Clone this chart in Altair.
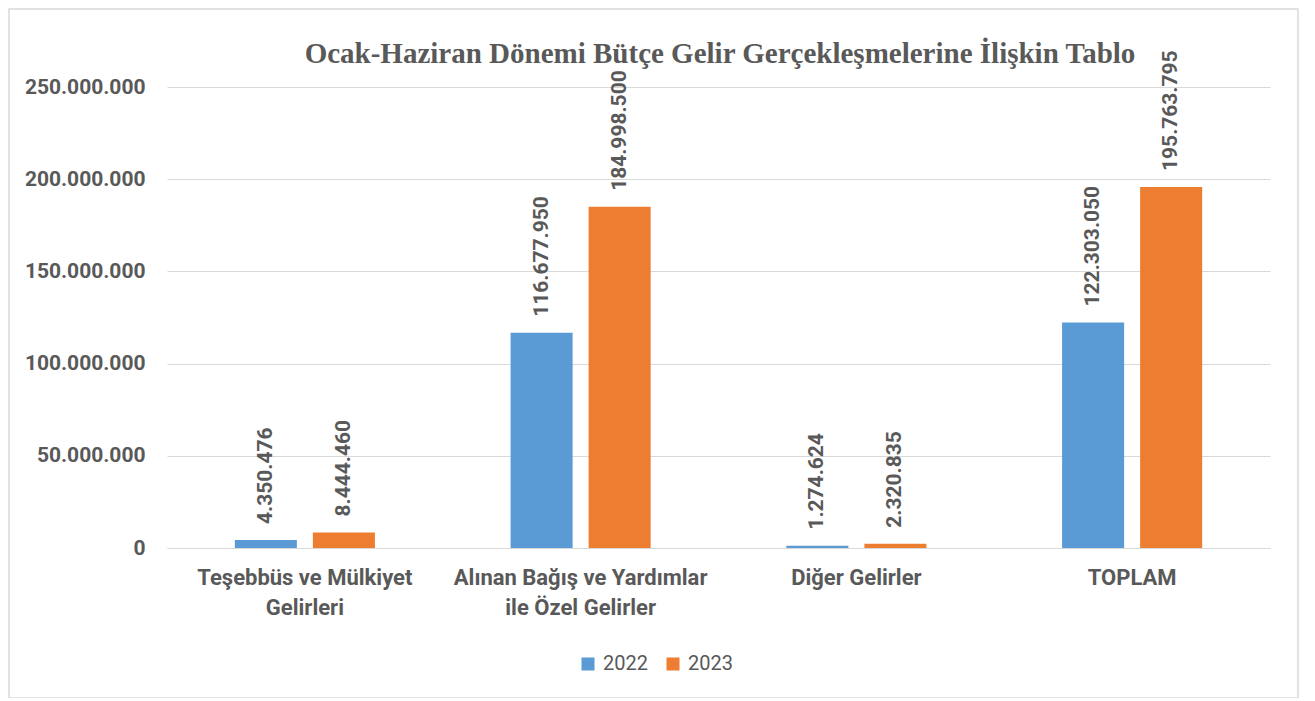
import altair as alt
import pandas as pd

categories = [
    "Teşebbüs ve Mülkiyet\nGelirleri",
    "Alınan Bağış ve Yardımlar\nile Özel Gelirler",
    "Diğer Gelirler",
    "TOPLAM",
]
years = ["2022", "2023"]
values_2022 = [4350476, 116677950, 1274624, 122303050]
values_2023 = [8444460, 184998500, 2320835, 195763795]
y_ticks = [0, 50000000, 100000000, 150000000, 200000000, 250000000]
colors = ["#5B9BD5", "#ED7D31"]
title_text = "Ocak-Haziran Dönemi Bütçe Gelir Gerçekleşmelerine İlişkin Tablo"

rows = []
for i, c in enumerate(categories):
    rows.append({"category": c, "year": years[0], "value": values_2022[i]})
    rows.append({"category": c, "year": years[1], "value": values_2023[i]})
df = pd.DataFrame(rows)

TXT = "#595959"
FONT = "Roboto"

base = alt.Chart(df).encode(
    x=alt.X(
        "category:N",
        sort=categories,
        scale=alt.Scale(paddingInner=0.492, paddingOuter=0.246),
        axis=alt.Axis(
            title=None,
            labelAngle=0,
            labelExpr="split(datum.label, '\\n')",
            labelFontSize=22,
            labelLineHeight=30,
            labelPadding=19,
            labelLimit=0,
            ticks=False,
            domainColor="#d9d9d9",
            grid=False,
        ),
    ),
    xOffset=alt.XOffset("year:N", scale=alt.Scale(paddingInner=0.205, paddingOuter=0)),
    y=alt.Y(
        "value:Q",
        scale=alt.Scale(domain=[0, 250000000], nice=False),
        axis=alt.Axis(
            title=None,
            values=y_ticks,
            format=",d",
            domain=False,
            ticks=False,
            gridColor="#d9d9d9",
            gridWidth=1,
            labelPadding=22,
            labelFontSize=21,
            labelLimit=0,
        ),
    ),
)

bars = base.mark_bar().encode(
    color=alt.Color(
        "year:N",
        scale=alt.Scale(domain=years, range=colors),
        legend=alt.Legend(
            title=None,
            orient="none",
            direction="horizontal",
            legendX=411,
            legendY=567,
            symbolType="square",
            symbolSize=169,
            symbolStrokeWidth=0,
            labelFontSize=20,
            labelFont=FONT,
            labelColor=TXT,
            columnPadding=15,
            labelOffset=5,
        ),
    )
)

labels = base.mark_text(
    angle=270,
    align="left",
    baseline="middle",
    dx=16,
    font=FONT,
    fontSize=21,
    fontWeight="bold",
    color=TXT,
).encode(text=alt.Text("value:Q", format=",d"))

border = alt.Chart(pd.DataFrame({"d": [0]})).mark_rect(
    filled=False, stroke="#d9d9d9", strokeWidth=1.5
).encode(
    x=alt.value(-158),
    x2=alt.value(1131),
    y=alt.value(-78),
    y2=alt.value(611),
)

title = alt.Chart(pd.DataFrame({"t": [title_text]})).mark_text(
    font="Liberation Serif",
    fontSize=29,
    fontWeight="bold",
    color=TXT,
    align="center",
    baseline="alphabetic",
).encode(
    text="t:N",
    x=alt.value(553),
    y=alt.value(-24),
)

chart = (
    alt.layer(border, bars, labels, title)
    .properties(
        width=1103,
        height=461,
        padding={"left": 159, "top": 79, "right": 29, "bottom": 150},
        autosize=alt.AutoSizeParams(type="none"),
    )
    .configure_view(stroke=None)
    .configure_axis(labelFont=FONT, labelFontWeight="bold", labelColor=TXT)
)

chart.save(
    "out.html",
    embed_options={
        "renderer": "svg",
        "actions": False,
        "formatLocale": {
            "decimal": ",",
            "thousands": ".",
            "grouping": [3],
            "currency": ["", " TL"],
        },
    },
)
